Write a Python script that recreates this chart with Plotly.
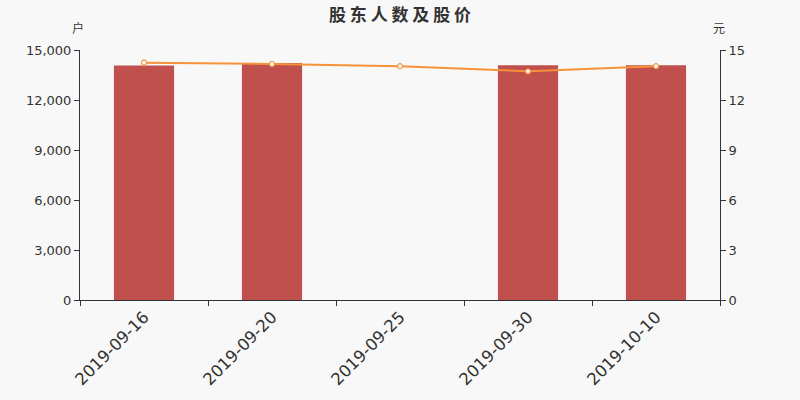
import plotly.graph_objects as go

dates = ['2019-09-16', '2019-09-20', '2019-09-25', '2019-09-30', '2019-10-10']
holders = [14070, 14220, None, 14090, 14080]
prices = [14.24, 14.16, 14.03, 13.72, 14.03]

FONT = 'DejaVu Sans, Noto Sans CJK SC, sans-serif'
CJK = 'Noto Sans CJK SC, sans-serif'

fig = go.Figure()
fig.add_trace(
    go.Bar(
        x=dates, y=holders, name='股东人数',
        marker=dict(color='#c0504d', line=dict(width=0)),
        width=0.47
    )
)
fig.add_trace(
    go.Scatter(
        x=dates, y=prices, name='股价', yaxis='y2', mode='lines+markers',
        line=dict(color='#f7923a', width=2),
        marker=dict(
            size=5, color='white', line=dict(color='#f7923a', width=1.2)
        )
    )
)

axis_font = dict(family=FONT, size=13, color='#333333')
fig.update_layout(
    width=800, height=400,
    paper_bgcolor='#f8f8f8', plot_bgcolor='#f8f8f8',
    margin=dict(l=80, r=80, t=50, b=100),
    showlegend=False,
    title=dict(
        text='<b>股 东 人 数 及 股 价</b>', x=0.5, xanchor='center',
        y=0.963, yanchor='middle',
        font=dict(family=CJK, size=17, color='#333333')
    ),
    xaxis=dict(
        type='category', tickson='boundaries', ticks='outside', ticklen=5,
        tickcolor='#333333', showline=True, linecolor='#333333',
        linewidth=1, showgrid=False, tickangle=-45,
        tickfont=dict(family=FONT, size=16.5, color='#333333')
    ),
    yaxis=dict(
        range=[0, 15000], tickvals=[0, 3000, 6000, 9000, 12000, 15000],
        tickformat=',', ticks='outside', ticklen=5, tickcolor='#333333',
        showline=True, linecolor='#333333', showgrid=False,
        zeroline=False, tickfont=axis_font
    ),
    yaxis2=dict(
        range=[0, 15], tickvals=[0, 3, 6, 9, 12, 15], overlaying='y',
        side='right', ticks='outside', ticklen=5, tickcolor='#333333',
        showline=True, linecolor='#333333', showgrid=False,
        zeroline=False, tickfont=axis_font
    ),
    annotations=[
        dict(
            text='户', xref='paper', yref='paper', x=-0.003, y=1.09,
            xanchor='center', yanchor='middle', showarrow=False,
            font=dict(family=CJK, size=12, color='#333333')
        ),
        dict(
            text='元', xref='paper', yref='paper', x=0.998, y=1.09,
            xanchor='center', yanchor='middle', showarrow=False,
            font=dict(family=CJK, size=12, color='#333333')
        ),
    ]
)

fig.write_html(
    'out.html',
    config={'displayModeBar': False},
    post_script="document.body.style.margin='0';"
)
